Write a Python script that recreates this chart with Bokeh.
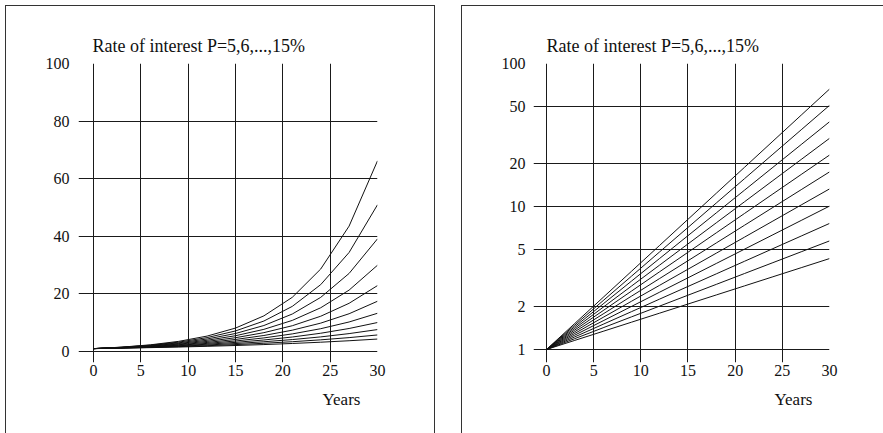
from bokeh.plotting import figure
from bokeh.layouts import row, column
from bokeh.models import FixedTicker, Spacer, Title
from bokeh.embed import file_html
from bokeh.resources import INLINE

# Years and growth factors (value of 1 unit after t years)
years = [0, 3, 6, 9, 12, 15, 18, 21, 24, 27, 30]
p5 = [1, 1.158, 1.340, 1.551, 1.796, 2.079, 2.407, 2.786, 3.225, 3.733, 4.322]
p6 = [1, 1.191, 1.419, 1.690, 2.012, 2.397, 2.854, 3.400, 4.049, 4.822, 5.743]
p7 = [1, 1.225, 1.501, 1.838, 2.252, 2.759, 3.380, 4.141, 5.072, 6.214, 7.612]
p8 = [1, 1.260, 1.587, 1.999, 2.518, 3.172, 3.996, 5.034, 6.341, 7.988, 10.06]
p9 = [1, 1.295, 1.677, 2.172, 2.813, 3.643, 4.717, 6.109, 7.911, 10.25, 13.27]
p10 = [1, 1.331, 1.772, 2.358, 3.138, 4.177, 5.560, 7.400, 9.850, 13.11, 17.45]
p11 = [1, 1.368, 1.870, 2.558, 3.499, 4.785, 6.544, 8.949, 12.24, 16.74, 22.89]
p12 = [1, 1.405, 1.974, 2.773, 3.896, 5.474, 7.690, 10.80, 15.18, 21.32, 29.96]
p13 = [1, 1.443, 2.082, 3.004, 4.335, 6.254, 9.024, 13.02, 18.79, 27.11, 39.12]
p14 = [1, 1.482, 2.195, 3.252, 4.818, 7.138, 10.58, 15.67, 23.21, 34.39, 50.95]
p15 = [1, 1.521, 2.313, 3.518, 5.350, 8.137, 12.38, 18.82, 28.63, 43.54, 66.21]
series = [p5, p6, p7, p8, p9, p10, p11, p12, p13, p14, p15]

x_ticks = [0, 5, 10, 15, 20, 25, 30]
lin_ticks = [0, 20, 40, 60, 80, 100]
log_ticks = [1, 2, 5, 10, 20, 50, 100]
title_text = "Rate of interest P=5,6,...,15%"
xlabel_text = "Years"

FONT = "Liberation Serif"
INK = "#1a1a1a"
TXT = "#111111"


def style(p, yticks, ystand, title_off, years_off):
    p.xaxis.ticker = FixedTicker(ticks=x_ticks)
    p.yaxis.ticker = FixedTicker(ticks=yticks)
    p.xgrid.ticker = FixedTicker(ticks=x_ticks)
    p.ygrid.ticker = FixedTicker(ticks=yticks)
    for g in (p.xgrid, p.ygrid):
        g.grid_line_color = INK
        g.grid_line_width = 1
        g.grid_line_alpha = 1
        g.minor_grid_line_color = None
    for ax in (p.xaxis, p.yaxis):
        ax.axis_line_color = None
        ax.major_tick_line_color = None
        ax.minor_tick_line_color = None
        ax.major_tick_in = 0
        ax.major_tick_out = 0
        ax.minor_tick_in = 0
        ax.minor_tick_out = 0
        ax.major_label_text_font = FONT
        ax.major_label_text_font_size = "16px"
        ax.major_label_text_color = TXT
    p.xaxis.major_label_standoff = 2
    p.yaxis.major_label_standoff = ystand
    p.xaxis.major_label_text_align = "left"
    p.yaxis.major_label_overrides = {t: str(t) for t in yticks}
    p.outline_line_color = None
    p.border_fill_color = "white"
    p.border_fill_alpha = 0
    p.background_fill_color = "white"
    p.background_fill_alpha = 0
    p.title.text = title_text
    p.title.align = "left"
    p.title.offset = title_off
    p.title.text_font = FONT
    p.title.text_font_size = "18px"
    p.title.text_font_style = "normal"
    p.title.text_color = TXT
    p.title.standoff = 15
    p.add_layout(Title(text=xlabel_text, align="left", offset=years_off, standoff=18,
                       text_font=FONT, text_font_size="17px", text_font_style="normal",
                       text_color=TXT), "below")
    for s in series:
        p.line(years, s, line_color="#111111", line_width=1)


p1 = figure(width=430, height=428, x_range=(-1.585, 30), y_range=(-3.82, 100),
            output_backend="svg", toolbar_location=None,
            min_border_left=73, min_border_right=58, min_border_top=58, min_border_bottom=71)
style(p1, lin_ticks, 9, 14, 244)
p1.styles = {"box-shadow": "inset 1px 1px 0 0 #333, inset -1px 0 0 0 #333"}

p2 = figure(width=422, height=428, x_range=(-1.378, 30), y_range=(0.811, 100), y_axis_type="log",
            output_backend="svg", toolbar_location=None,
            min_border_left=72, min_border_right=54, min_border_top=58, min_border_bottom=71)
style(p2, log_ticks, 8, 13, 241)
p2.styles = {"box-shadow": "inset 1px 1px 0 0 #333"}

layout = column(Spacer(width=10, height=5),
                row(Spacer(width=5, height=10), p1, Spacer(width=26, height=10), p2))
open("out.html", "w").write(file_html(layout, INLINE))
